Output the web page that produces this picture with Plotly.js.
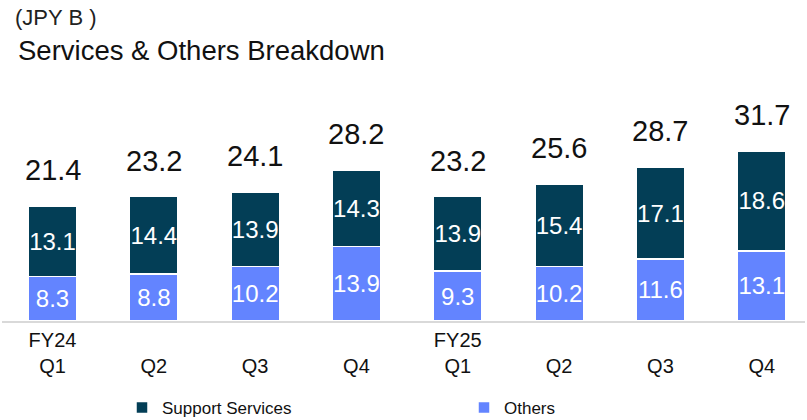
<!DOCTYPE html>
<html>
<head>
<meta charset="utf-8">
<script src="https://cdn.plot.ly/plotly-3.0.1.min.js"></script>
<style>html,body{margin:0;padding:0;background:#fff;}#chart{width:807px;height:420px;}</style>
</head>
<body>
<div id="chart"></div>
<script>
const categories = ["FY24<br>Q1", " <br>Q2", " <br>Q3", " <br>Q4", "FY25<br>Q1", " <br>Q2", " <br>Q3", " <br>Q4"];
const supportServices = [13.1, 14.4, 13.9, 14.3, 13.9, 15.4, 17.1, 18.6];
const others = [8.3, 8.8, 10.2, 13.9, 9.3, 10.2, 11.6, 13.1];
const totals = [21.4, 23.2, 24.1, 28.2, 23.2, 25.6, 28.7, 31.7];

const xs = categories.map((c, i) => i);
const font = "Liberation Sans, Arial, sans-serif";

const othersTrace = {
  type: "bar", name: "Others", x: xs, y: others, legend: "legend2",
  marker: {color: "#6384FF", line: {color: "#ffffff", width: 1.5}},
  width: 0.479,
  text: others.map(v => v.toFixed(1)), textposition: "inside", insidetextanchor: "middle",
  textangle: 0, constraintext: "none",
  textfont: {color: "#ffffff", size: 24, family: font},
  hoverinfo: "none"
};
const supportTrace = {
  type: "bar", name: "Support Services", x: xs, y: supportServices, legend: "legend",
  marker: {color: "#033E56", line: {color: "#ffffff", width: 1.5}},
  width: 0.479,
  text: supportServices.map(v => v.toFixed(1)), textposition: "inside", insidetextanchor: "middle",
  textangle: 0, constraintext: "none",
  textfont: {color: "#ffffff", size: 24, family: font},
  hoverinfo: "none"
};
const data = [othersTrace, supportTrace];

const annotations = totals.map((t, i) => ({
  x: i, y: t, xref: "x", yref: "y", text: t.toFixed(1), showarrow: false,
  yshift: 36, font: {size: 29, color: "#111111", family: font}
}));
annotations.push({
  xref: "paper", yref: "paper", x: 0.0137, y: (321 - 18) / 261, xanchor: "left", yanchor: "middle",
  text: "(JPY B )", showarrow: false,
  font: {size: 22, color: "#222222", family: font}
});

const legendFont = {size: 17, color: "#111111", family: font};
const layout = {
  width: 807, height: 420,
  margin: {l: 2, r: 2, t: 60, b: 99, autoexpand: false},
  paper_bgcolor: "#ffffff", plot_bgcolor: "#ffffff",
  barmode: "stack",
  showlegend: true,
  legend: {
    orientation: "h", x: (122 - 2) / 803, xanchor: "left", y: (321 - 408) / 261, yanchor: "middle",
    font: legendFont, bgcolor: "rgba(0,0,0,0)"
  },
  legend2: {
    orientation: "h", x: (464 - 2) / 803, xanchor: "left", y: (321 - 408) / 261, yanchor: "middle",
    font: legendFont, bgcolor: "rgba(0,0,0,0)"
  },
  xaxis: {
    type: "linear", range: [-0.4985, 7.427], tickmode: "array", tickvals: xs, ticktext: categories,
    showgrid: false, zeroline: false, showline: true, linecolor: "#D9D9D9", linewidth: 2,
    ticks: "", ticklen: 0,
    tickfont: {size: 20, color: "#111111", family: font}, fixedrange: true
  },
  yaxis: {
    range: [0, 48.7], visible: false, showgrid: false, zeroline: false, fixedrange: true
  },
  title: {
    text: "Services & Others Breakdown", x: 18 / 807, xanchor: "left", xref: "container",
    y: 1 - 50 / 420, yanchor: "middle", yref: "container",
    font: {size: 27.5, color: "#111111", family: font}
  },
  annotations: annotations
};

Plotly.newPlot("chart", data, layout, {displayModeBar: false, staticPlot: true});
</script>
</body>
</html>
